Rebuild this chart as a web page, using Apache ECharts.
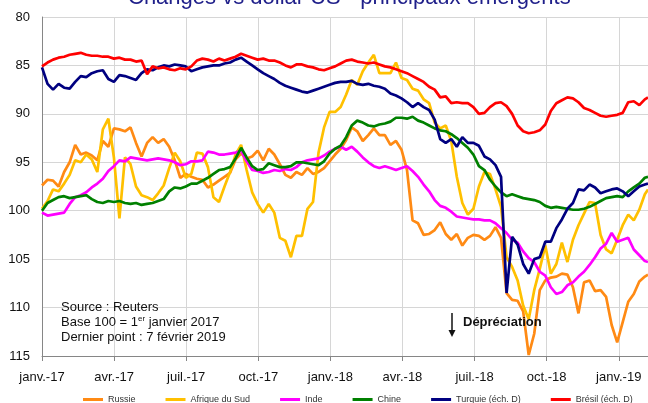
<!DOCTYPE html>
<html><head><meta charset="utf-8">
<script src="https://cdn.jsdelivr.net/npm/echarts@6/dist/echarts.min.js"></script>
<style>html,body{margin:0;padding:0;background:#fff}#c{width:648px;height:403px}</style>
</head><body><div id="c"></div>
<script>
// ---- data ----
const startDate = '2017-01-01';
const lastDate = '2019-02-07';
const weeklyCount = 110;
const dates = [];
for (let i = 0; i < weeklyCount; i++) dates.push(new Date(Date.UTC(2017, 0, 1 + 7 * i)).toISOString().slice(0, 10));
dates.push(lastDate);

const tickLabels = ['janv.-17','avr.-17','juil.-17','oct.-17','janv.-18','avr.-18','juil.-18','oct.-18','janv.-19'];
const seriesNames = ['Russie','Afrique du Sud','Inde','Chine','Turquie (éch. D)','Brésil (éch. D)'];

const russie = [97.4,96.8,96.9,97.5,96.0,95.0,93.2,94.2,94.0,94.3,
94.8,92.8,93.4,91.5,91.6,91.8,91.4,93.0,94.4,93.0,
92.4,93.0,92.6,93.4,94.8,96.6,96.2,96.5,96.7,96.8,
97.6,97.3,96.9,96.5,96.1,94.7,94.1,94.6,94.4,93.8,
94.8,93.6,94.2,95.2,96.3,96.6,96.0,96.3,95.6,96.2,
96.0,95.6,94.9,94.2,93.6,92.7,91.4,91.8,92.8,92.2,
91.5,92.2,92.2,93.2,92.8,93.7,95.8,101.0,101.3,102.5,
102.4,102.0,101.2,102.4,103.0,102.4,103.6,102.8,102.5,102.6,
103.0,102.6,101.7,102.8,108.5,109.2,109.3,110.4,114.9,112.7,
108.2,107.2,106.9,106.8,106.5,106.6,107.9,110.6,107.4,107.2,
108.3,108.2,108.9,111.8,113.6,111.5,109.4,108.6,107.3,106.8,
106.6];

const afrique = [99.8,99.0,97.8,98.0,97.2,96.3,94.8,95.0,94.2,94.7,
96.0,91.6,90.5,94.5,100.8,94.5,95.2,97.5,98.4,98.6,
98.9,98.2,97.4,95.6,94.0,94.9,96.6,96.2,94.0,94.1,
95.5,98.6,99.1,97.5,96.0,94.2,93.2,95.8,98.1,99.3,
100.2,99.3,100.2,102.8,103.1,104.8,102.6,102.6,99.8,99.1,
94.0,91.4,89.8,89.8,89.3,88.0,86.5,87.0,85.6,84.7,
83.9,85.8,85.8,85.8,84.7,86.3,86.5,87.4,87.6,88.5,
88.9,90.9,91.5,91.2,92.8,96.5,99.2,100.4,99.8,97.5,
96.0,96.2,97.8,99.6,104.8,105.8,107.2,109.8,111.2,108.2,
106.0,103.6,106.5,105.5,103.3,105.3,103.0,101.5,100.3,99.1,
99.2,102.5,104.0,104.4,103.0,101.5,100.4,101.0,99.9,98.3,
97.8];

const inde = [100.2,100.5,100.4,100.3,100.2,99.3,98.6,98.4,98.1,97.6,
97.2,96.7,95.9,95.4,94.8,94.9,94.5,94.6,94.7,94.8,
94.7,94.6,94.7,94.8,95.0,95.3,95.2,94.9,94.9,94.8,
93.9,94.0,94.2,94.2,94.1,94.0,93.8,94.9,95.8,95.9,
96.1,96.0,95.8,95.9,95.7,95.8,95.5,95.0,94.8,94.7,
94.6,94.3,93.9,93.6,93.4,93.7,93.4,93.9,94.5,95.0,
95.4,95.6,95.4,95.6,95.8,95.6,95.4,95.9,96.5,97.3,
98.0,98.9,99.5,99.7,100.1,100.6,100.7,100.8,100.9,100.9,
101.0,101.0,101.3,101.8,102.3,103.0,103.3,104.2,104.9,105.3,
106.3,106.7,107.9,108.6,108.4,107.7,107.4,106.8,106.3,105.6,
104.8,103.9,103.4,102.3,103.2,103.0,102.8,104.0,104.6,105.2,
105.3];

const chine = [100.0,99.2,98.9,98.6,98.5,98.7,98.6,98.5,98.4,98.8,
99.1,99.2,99.0,99.1,99.0,99.2,99.3,99.2,99.4,99.3,
99.2,99.0,98.8,98.0,97.6,97.7,97.5,97.2,97.2,96.9,
96.6,96.2,95.8,95.7,95.5,94.6,93.5,94.5,95.4,95.8,
95.7,95.1,95.3,95.5,95.5,95.4,95.0,95.0,95.1,95.2,
95.3,94.9,94.1,93.6,93.3,92.4,91.2,90.7,90.9,91.2,
91.3,91.1,91.0,90.8,90.4,90.4,90.5,90.3,90.7,90.9,
91.2,91.5,91.7,91.8,92.1,92.5,93.0,93.5,94.2,95.4,
95.8,96.8,97.5,98.1,98.5,98.3,98.5,98.7,98.8,98.9,
99.1,99.5,99.7,99.6,99.7,99.8,99.9,99.9,99.8,99.6,
99.3,99.0,98.7,98.6,98.5,98.6,98.0,97.6,97.2,96.6,
96.5];

const turquie = [85.2,86.9,87.5,86.9,87.3,87.4,86.7,86.1,86.2,85.8,
85.6,85.5,86.4,86.7,86.0,86.1,86.3,86.5,85.8,85.4,
85.5,85.2,85.0,85.1,84.9,85.0,85.1,85.6,85.4,85.2,
85.1,85.0,85.0,84.8,84.7,84.4,84.2,84.6,85.0,85.4,
85.8,86.1,86.4,86.8,87.1,87.3,87.5,87.7,87.8,87.6,
87.4,87.2,87.0,86.8,86.7,86.7,86.6,86.9,87.0,86.9,
87.1,87.2,87.4,87.9,88.1,88.4,88.8,89.3,88.9,89.3,
89.6,90.6,92.6,93.0,92.6,93.4,92.4,93.0,93.0,93.3,
94.4,94.7,95.3,96.5,108.5,102.7,103.5,105.5,106.5,105.0,
104.8,103.2,103.2,101.8,100.9,99.8,99.2,97.8,97.9,97.3,
97.6,98.2,98.0,97.8,97.7,98.0,98.5,98.0,97.5,97.3,
97.2];

const bresil = [85.1,84.7,84.4,84.2,84.1,83.9,83.8,83.7,83.9,84.0,
84.0,84.1,84.1,84.3,84.2,84.4,84.4,84.6,84.5,85.9,
85.1,85.3,85.2,85.4,85.5,85.3,85.4,85.1,84.5,84.3,
84.4,84.6,84.3,84.5,84.3,84.1,83.8,84.0,84.2,84.4,
84.3,84.5,84.5,84.7,85.0,85.2,84.9,84.9,85.1,85.2,
85.4,85.5,85.3,85.1,84.8,84.5,84.4,84.6,84.7,84.8,
84.7,84.9,85.1,85.2,85.4,85.6,85.8,86.1,86.4,86.7,
87.2,87.5,88.3,88.2,88.9,88.8,88.9,88.9,89.3,90.0,
89.9,89.3,88.9,88.8,89.2,90.0,91.2,91.8,92.0,91.9,
91.7,91.1,89.7,88.9,88.6,88.3,88.4,88.8,89.4,89.6,
89.9,90.2,90.3,90.2,90.1,89.9,88.8,88.7,89.1,88.5,
88.3];

// ---- chart ----
const FONT = 'Liberation Sans, Arial, sans-serif';
const t0 = Date.parse(startDate + 'T00:00:00Z');
const dayOf = s => Math.round((Date.parse(s + 'T00:00:00Z') - t0) / 864e5);
const quarter = 91.25;

const colors = ['#FF8A14', '#FFC000', '#FF00FF', '#008000', '#000080', '#FF0000'];
const allValues = [russie, afrique, inde, chine, turquie, bresil];
const axisIdx = [0, 0, 0, 0, 1, 1];

const series = allValues.map((vals, k) => ({
  name: seriesNames[k],
  type: 'line',
  yAxisIndex: axisIdx[k],
  showSymbol: false,
  symbol: 'none',
  lineStyle: { width: 2.7, color: colors[k] },
  itemStyle: { color: colors[k] },
  data: dates.map((d, i) => [dayOf(d), vals[i]])
}));

const yAxisBase = {
  type: 'value', inverse: true, min: 80, max: 115, interval: 5
};

const chart = echarts.init(document.getElementById('c'), null, { renderer: 'canvas' });
chart.setOption({
  animation: false,
  backgroundColor: '#fff',
  textStyle: { fontFamily: FONT },
  title: {
    text: 'Changes vs dollar US - principaux émergents',
    left: 123, top: -18,
    textStyle: { fontSize: 22, fontWeight: 'normal', color: '#1f1f8a', fontFamily: FONT }
  },
  grid: { left: 42, top: 17, width: 607, height: 339, containLabel: false },
  legend: {
    left: 78, top: 390,
    icon: 'rect', itemWidth: 20, itemHeight: 3, itemGap: 30,
    textStyle: { fontSize: 9, color: '#333', fontFamily: FONT },
    data: seriesNames
  },
  xAxis: {
    type: 'value', min: 0, max: dayOf(lastDate), interval: quarter,
    axisLine: { onZero: false, lineStyle: { color: '#868686', width: 1 } },
    axisTick: { show: true, length: 5, lineStyle: { color: '#868686' } },
    splitLine: { show: true, lineStyle: { color: '#d6d6d6', width: 1 } },
    axisLabel: {
      fontSize: 13, color: '#111', margin: 15, fontFamily: FONT, showMaxLabel: false,
      formatter: v => {
        const q = v / quarter, r = Math.round(q);
        return Math.abs(q - r) < 1e-6 && tickLabels[r] ? tickLabels[r] : '';
      }
    }
  },
  yAxis: [
    Object.assign({}, yAxisBase, {
      axisLine: { show: true, lineStyle: { color: '#868686', width: 1 } },
      axisTick: { show: false },
      splitLine: { show: true, lineStyle: { color: '#d6d6d6', width: 1 } },
      axisLabel: { fontSize: 13, color: '#111', margin: 12, fontFamily: FONT }
    }),
    Object.assign({}, yAxisBase, { show: false, splitLine: { show: false } })
  ],
  series: series,
  graphic: [
    {
      type: 'text', left: 61, top: 300, z: 100,
      style: {
        text: 'Source : Reuters\nBase 100 = 1{sup|er} janvier 2017\nDernier point : 7 février 2019',
        font: '13px ' + FONT, fill: '#111', lineHeight: 15,
        rich: { sup: { fontSize: 8, verticalAlign: 'top', lineHeight: 15, fill: '#111', fontFamily: FONT } }
      }
    },
    {
      type: 'text', left: 463, top: 316, z: 100,
      style: { text: 'Dépréciation', font: 'bold 13px ' + FONT, fill: '#111' }
    },
    {
      type: 'line', z: 100,
      shape: { x1: 452, y1: 313, x2: 452, y2: 332 },
      style: { stroke: '#111', lineWidth: 1.5 }
    },
    {
      type: 'polygon', z: 100,
      shape: { points: [[448.5, 330], [455.5, 330], [452, 337]] },
      style: { fill: '#111' }
    }
  ]
});
</script>
</body></html>
